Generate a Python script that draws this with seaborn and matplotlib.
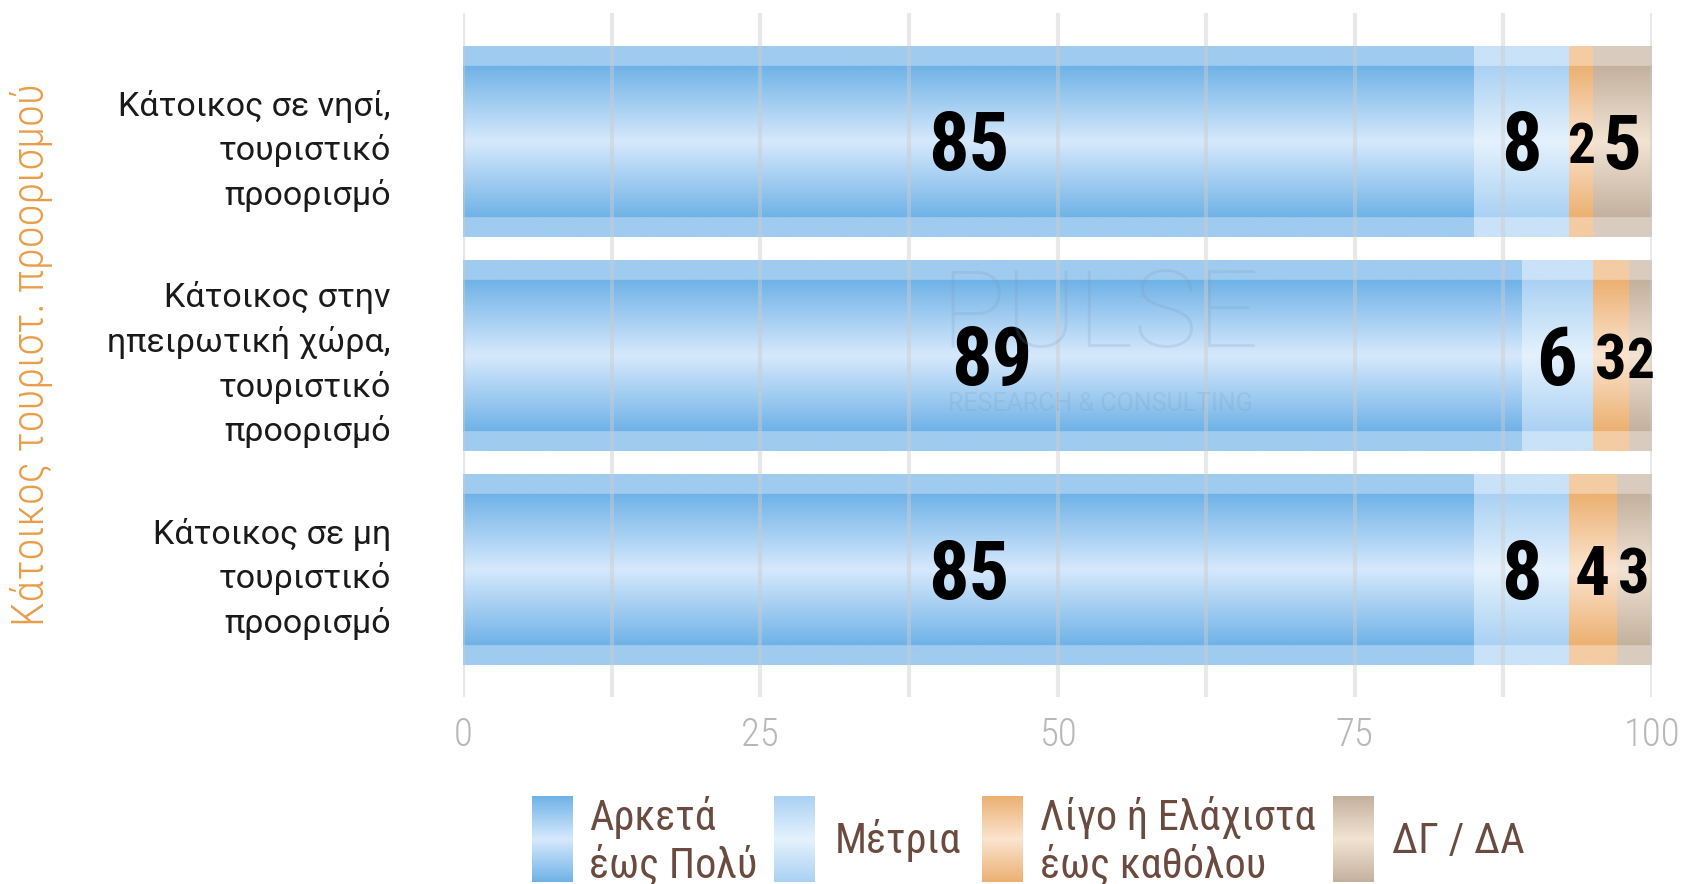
import numpy as np
import matplotlib
matplotlib.use("Agg")
import matplotlib.pyplot as plt
import seaborn as sns
from matplotlib import font_manager
from matplotlib.transforms import offset_copy

# Data
categories = [
    "Κάτοικος σε νησί,\nτουριστικό\nπροορισμό",
    "Κάτοικος στην\nηπειρωτική χώρα,\nτουριστικό\nπροορισμό",
    "Κάτοικος σε μη\nτουριστικό\nπροορισμό",
]
series_names = ["Αρκετά\nέως Πολύ", "Μέτρια", "Λίγο ή Ελάχιστα\nέως καθόλου", "ΔΓ / ΔΑ"]
arketa = [85, 89, 85]
metria = [8, 6, 8]
ligo = [2, 3, 4]
dgda = [5, 2, 3]
x_ticks = [0, 25, 50, 75, 100]
axis_title = "Κάτοικος τουριστ. προορισμού"

# colours per series: (outer band, gradient edge, gradient centre)
shades = [
    ("#9fcbf0", "#6fb2e7", "#d6e9fc"),
    ("#c9e2f8", "#a9d1f3", "#e5f2fd"),
    ("#f3cca3", "#ecb071", "#fbe4cf"),
    ("#d9ccbf", "#c3b19e", "#f2e3d3"),
]

sns.set_theme(style="white")
names = {f.name for f in font_manager.fontManager.ttflist}
cond = "Roboto Condensed" if "Roboto Condensed" in names else "Roboto"
plt.rcParams["font.family"] = ["Roboto", "DejaVu Sans"]


def hex2rgb(h):
    return np.array(matplotlib.colors.to_rgb(h))


def gradient(i, band=0.104, n=240):
    b, e, c = (hex2rgb(h) for h in shades[i])
    t = (np.arange(n) + 0.5) / n
    img = np.zeros((n, 1, 3))
    for k, tk in enumerate(t):
        if band > 0 and (tk < band or tk > 1 - band):
            img[k, 0] = b
        else:
            s = abs(tk - 0.5) / (0.5 - band)
            img[k, 0] = c * (1 - s) + e * s
    return img


fig = plt.figure(figsize=(16.86, 8.84), dpi=100)
ax = fig.add_axes([463 / 1686, 187 / 884, 1189 / 1686, 684 / 884])

values = np.array([arketa, metria, ligo, dgda])
cum = np.cumsum(values, axis=0)

# stacked bars: draw the longest cumulative first, shorter on top
for i in reversed(range(len(series_names))):
    start = len(ax.patches)
    sns.barplot(x=cum[i], y=categories, orient="h", width=0.891,
                color=shades[i][1], edgecolor="none", errorbar=None,
                ax=ax, zorder=0.9)
    for p in ax.patches[start:]:
        x0, y0, w, h = p.get_x(), p.get_y(), p.get_width(), p.get_height()
        ax.imshow(gradient(i), extent=[x0, x0 + w, y0 + h, y0], aspect="auto",
                  interpolation="bilinear", zorder=1 + (3 - i) * 0.1)

# value labels, nudged a little down
label_trans = offset_copy(ax.transData, fig=fig, x=0, y=-7, units="dots")
for i in range(len(series_names)):
    for r in range(len(categories)):
        v = values[i][r]
        ax.text(cum[i][r] - v / 2, r, str(v), ha="center", va="center",
                fontsize=min(58, 30 + 5 * v), fontweight="bold",
                family=[cond, "DejaVu Sans"], color="black", zorder=5,
                transform=label_trans)

ax.set_xlim(0, 100)
ax.set_ylim(2.595, -0.6)
ax.set_xticks(x_ticks)
ax.set_xticks([12.5, 37.5, 62.5, 87.5], minor=True)
ax.set_axisbelow(False)
ax.grid(axis="x", which="both", color="#cccccc", lw=3, alpha=0.45)
ax.grid(axis="y", visible=False)
for s in ax.spines.values():
    s.set_visible(False)
ax.tick_params(axis="x", length=0, pad=14, labelsize=28, labelcolor="#b8b8b8")
ax.tick_params(axis="y", length=0, pad=52, labelsize=24.5, labelcolor="#1a1a1a")
for lab in ax.get_xticklabels():
    lab.set_family([cond, "DejaVu Sans"])
    lab.set_fontweight("light")
for lab in ax.get_yticklabels():
    lab.set_linespacing(1.45)
ax.set_xlabel("")
ax.set_ylabel("")

# axis title on the left
fig.text(32 / 1686, 1 - 355 / 884, axis_title, rotation=90, ha="center",
         va="center", fontsize=32 if cond != "Roboto" else 27, color="#e99d4a",
         family=[cond, "DejaVu Sans"], fontweight="light")

# faint watermark
fig.text(1100 / 1686, 1 - 318 / 884, "PULSE", ha="center", va="center",
         fontsize=78, color="#7f97b3", alpha=0.2, fontweight="light")
fig.text(1100 / 1686, 1 - 404 / 884, "RESEARCH & CONSULTING", ha="center",
         va="center", fontsize=18, color="#7f97b3", alpha=0.2)

# legend built by hand so the swatches keep their gradient
swatch_x = [532, 774, 982, 1333]
text_x = [589, 835, 1040, 1392]
leg_size = 30.5 if cond != "Roboto" else 26
for i, name in enumerate(series_names):
    sw = fig.add_axes([swatch_x[i] / 1686, 2 / 884, 41 / 1686, 86 / 884])
    sw.imshow(gradient(i, band=0), aspect="auto", interpolation="bilinear")
    sw.set_axis_off()
    fig.text(text_x[i] / 1686, 1 - 841 / 884, name, ha="left", va="center",
             fontsize=leg_size, color="#6b4a3f", linespacing=1.15,
             family=[cond, "DejaVu Sans"])

plt.savefig("out.png", dpi=100)
